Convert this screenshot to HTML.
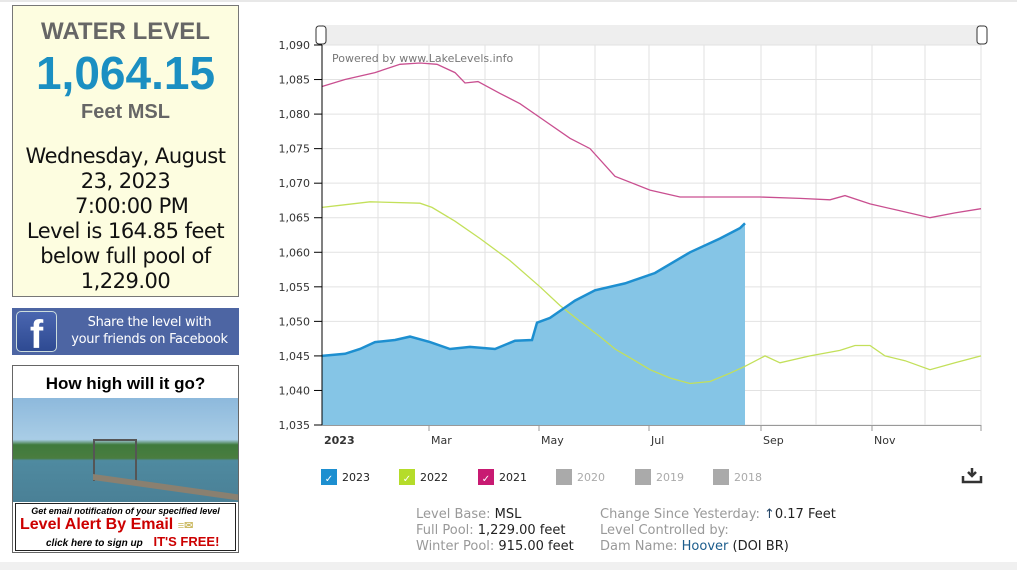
<!DOCTYPE html>
<html><head><meta charset="utf-8"><style>
body{margin:0;width:1017px;height:570px;background:#fff;position:relative;overflow:hidden;font-family:"DejaVu Sans",sans-serif}
.abs{position:absolute}
#lvl{left:12px;top:5px;width:225px;height:290px;background:#fdfde0;border:1px solid #777;text-align:center}
</style></head><body>
<div class="abs" style="left:0;top:0;width:1017px;height:2px;background:#e8e8e8"></div>
<div class="abs" style="left:0;top:562px;width:1017px;height:8px;background:#f0f0f0"></div>
<div id="lvl" class="abs">
<div style="font:bold 24px 'Liberation Sans',sans-serif;color:#666;margin-top:12px">WATER LEVEL</div>
<div style="font:bold 46px 'Liberation Sans',sans-serif;color:#1b8fc2;line-height:50px;margin-top:2px">1,064.15</div>
<div style="font:bold 20px 'Liberation Sans',sans-serif;color:#666;margin-top:3px">Feet MSL</div>
<div style="font:21px 'DejaVu Sans',sans-serif;color:#111;line-height:25px;margin-top:20px;letter-spacing:-0.5px">Wednesday, August<br>23, 2023<br>&nbsp;&nbsp;7:00:00 PM<br>Level is 164.85 feet<br>below full pool of<br>1,229.00</div>
</div>
<div class="abs" style="left:12px;top:308px;width:227px;height:47px;background:#4d65a3">
<div class="abs" style="left:4px;top:3px;width:39px;height:39px;border:1px solid #cdd;border-radius:5px;background:linear-gradient(#4a66b0,#2e4a92);color:#fff;font:bold 40px 'Liberation Sans',sans-serif;text-align:center;line-height:46px;overflow:hidden">f</div>
<div class="abs" style="left:48px;top:6px;width:179px;text-align:center;color:#fff;font:13px 'DejaVu Sans',sans-serif;line-height:17px;letter-spacing:-0.3px;white-space:nowrap">Share the level with<br>your friends on Facebook</div>
</div>
<div class="abs" style="left:12px;top:365px;width:225px;height:186px;border:1px solid #666;background:#fff">
<div style="text-align:center;font:bold 17px 'Liberation Sans',sans-serif;margin-top:8px">How high will it go?</div>
<div class="abs" style="left:0;top:32px;width:225px;height:104px;background:linear-gradient(#8db9dc 0,#a9cde6 40%,#3f7a3c 45%,#4a7d3f 58%,#4f8aa0 60%,#4a8096 100%)"></div>
<div class="abs" style="left:80px;top:73px;width:40px;height:40px;border:2px solid #555;border-bottom:none"></div>
<div class="abs" style="left:80px;top:108px;width:145px;height:6px;background:#8a8070;transform:skewY(8deg);transform-origin:left"></div>
<div class="abs" style="left:2px;top:137px;width:219px;height:46px;border:1px solid #222;text-align:center">
<div style="font:italic bold 9px 'Liberation Sans',sans-serif;margin-top:2px">Get email notification of your specified level</div>
<div style="font:bold 16px 'Liberation Sans',sans-serif;color:#c00;text-align:left;margin-left:4px">Level Alert By Email <span style="font-size:11px;color:#cb6">≡✉</span></div>
<div style="font:italic bold 10px 'Liberation Sans',sans-serif;text-align:left;margin-left:30px">click here to sign up <span style="color:#c00;font-size:13px;font-style:normal;margin-left:8px">IT'S FREE!</span></div>
</div></div>

<svg class="abs" style="left:0;top:0" width="1017" height="570" id="s" font-family="'DejaVu Sans',sans-serif">
<rect x="322" y="25" width="659" height="20" fill="#eee"/>
<rect x="316" y="26" width="10" height="18" rx="3" fill="#fff" stroke="#333"/>
<rect x="977" y="26" width="10" height="18" rx="3" fill="#fff" stroke="#333"/>
<g id="grid" stroke="#e2e2e2" stroke-width="1"></g>
<path id="f23" fill="#85c5e6"/>
<path id="l21" fill="none" stroke="#c94f90" stroke-width="1.3"/>
<path id="l22" fill="none" stroke="#c3e05a" stroke-width="1.3"/>
<path id="l23" fill="none" stroke="#1d8fd0" stroke-width="2.5"/>
<line x1="322" y1="45" x2="322" y2="425" stroke="#000"/>
<line x1="322" y1="425.5" x2="981" y2="425.5" stroke="#999"/>
<text x="332" y="62" font-size="11" fill="#777">Powered by www.LakeLevels.info</text>
<g id="yl" font-size="11" fill="#333" text-anchor="end"></g>
<g font-size="11" fill="#333"><text x="324" y="444" font-weight="bold">2023</text><text x="431" y="444">Mar</text><text x="541" y="444">May</text><text x="651" y="444">Jul</text><text x="763" y="444">Sep</text><text x="874" y="444">Nov</text></g>
<g font-size="11">
<rect x="321" y="469" width="16" height="16" fill="#1d8fd0"/><text x="329" y="482" fill="#fff" text-anchor="middle" font-size="10">✓</text><text x="342" y="481" fill="#222">2023</text>
<rect x="399" y="469" width="16" height="16" fill="#b5dc2a"/><text x="407" y="482" fill="#fff" text-anchor="middle" font-size="10">✓</text><text x="420" y="481" fill="#222">2022</text>
<rect x="478" y="469" width="16" height="16" fill="#c81a72"/><text x="486" y="482" fill="#fff" text-anchor="middle" font-size="10">✓</text><text x="499" y="481" fill="#222">2021</text>
<rect x="556" y="469" width="16" height="16" fill="#aaa"/><text x="577" y="481" fill="#aaa">2020</text>
<rect x="635" y="469" width="16" height="16" fill="#aaa"/><text x="656" y="481" fill="#aaa">2019</text>
<rect x="713" y="469" width="16" height="16" fill="#aaa"/><text x="734" y="481" fill="#aaa">2018</text>
<path d="M972 468v8M968 472l4 4 4-4M963 476v6h18v-6" stroke="#333" stroke-width="2.5" fill="none"/>
</g>
<g font-size="13" fill="#999">
<text x="416" y="518">Level Base: <tspan fill="#222">MSL</tspan></text>
<text x="416" y="534">Full Pool: <tspan fill="#222">1,229.00 feet</tspan></text>
<text x="416" y="550">Winter Pool: <tspan fill="#222">915.00 feet</tspan></text>
<text x="600" y="518">Change Since Yesterday: <tspan fill="#246">↑</tspan><tspan fill="#222">0.17 Feet</tspan></text>
<text x="600" y="534">Level Controlled by:</text>
<text x="600" y="550">Dam Name: <tspan fill="#1b5c8c">Hoover</tspan><tspan fill="#222"> (DOI BR)</tspan></text>
</g>
</svg>
<script>
var Y=v=>45+(1090-v)*380/55;
var g='',yl='';
for(var v=1035;v<=1090;v+=5){var y=Y(v);g+='<line x1="322" x2="981" y1="'+y+'" y2="'+y+'"/>';yl+='<text x="310" y="'+(y+4)+'">'+(v/1000|0)+','+String(v%1000).padStart(3,'0')+'</text><line x1="314" x2="322" y1="'+y+'" y2="'+y+'" stroke="#000"/>';}
[378,429,485,539,595,649,704,761,816,872,925,981].forEach(x=>g+='<line x1="'+x+'" x2="'+x+'" y1="45" y2="425"/>');
[429,539,649,761,872,981].forEach(x=>g+='<line x1="'+x+'" x2="'+x+'" y1="425" y2="431" stroke="#999"/>');
document.getElementById('grid').innerHTML=g;document.getElementById('yl').innerHTML=yl;
function p(a){return a.map((q,i)=>(i?'L':'M')+q[0]+' '+Y(q[1]).toFixed(1)).join('')}
var d21=[[322,1084],[345,1085],[375,1086],[400,1087.2],[420,1087.4],[437,1087.2],[455,1086],[465,1084.5],[478,1084.7],[500,1083],[520,1081.5],[545,1079],[570,1076.5],[590,1075],[615,1071],[650,1069],[680,1068],[760,1068],[800,1067.8],[830,1067.6],[845,1068.2],[870,1067],[900,1066],[930,1065],[955,1065.7],[981,1066.3]];
var d22=[[322,1066.5],[340,1066.8],[370,1067.3],[420,1067.1],[432,1066.5],[455,1064.5],[480,1062],[510,1058.8],[540,1055],[560,1052.3],[580,1050],[600,1047.8],[615,1046],[635,1044.3],[650,1043],[670,1041.8],[690,1041],[710,1041.3],[730,1042.5],[745,1043.5],[765,1045],[780,1044],[810,1045],[840,1045.8],[855,1046.5],[870,1046.5],[885,1045],[905,1044.3],[930,1043],[955,1044],[981,1045]];
var d23=[[322,1045],[345,1045.3],[360,1046],[375,1047],[395,1047.3],[410,1047.8],[430,1047],[450,1046],[470,1046.3],[495,1046],[515,1047.2],[532,1047.3],[537,1049.8],[550,1050.5],[565,1052],[575,1053],[595,1054.5],[625,1055.5],[655,1057],[690,1060],[720,1062],[740,1063.5],[745,1064.2]];
document.getElementById('l21').setAttribute('d',p(d21));
document.getElementById('l22').setAttribute('d',p(d22));
document.getElementById('l23').setAttribute('d',p(d23));
document.getElementById('f23').setAttribute('d',p(d23)+'L745 425L322 425Z');
</script>
</body></html>
